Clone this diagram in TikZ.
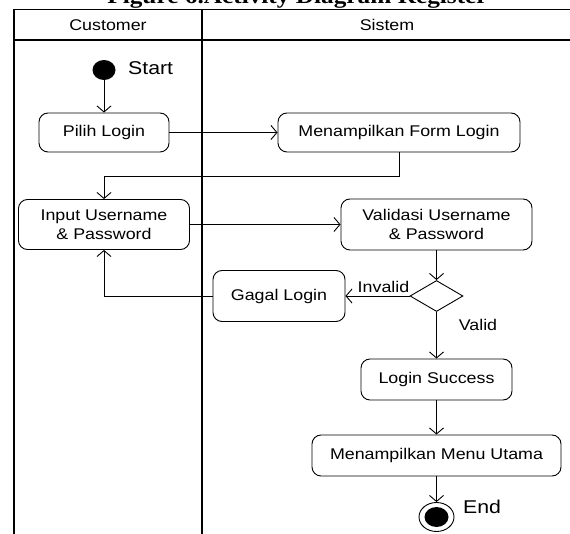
\documentclass[tikz,border=0pt]{standalone}
\usepackage{fontspec}
\setmainfont{Liberation Sans}[FakeStretch=1.15]
\newfontfamily\titlefont{Liberation Serif}[FakeStretch=1.15]
\usetikzlibrary{arrows.meta,shapes.geometric}
\begin{document}
\begin{tikzpicture}[x=1pt,y=-1pt,
  every node/.style={font=\fontsize{15.5}{18.5}\selectfont},
  act/.style={draw,rounded corners=9pt,line width=0.9pt,align=center,inner sep=0pt},
  flow/.style={line width=0.9pt,-{Straight Barb[length=6pt,width=14pt]}},
  lane/.style={line width=1.3pt},
  biglbl/.style={font=\fontsize{18.5}{20}\selectfont,inner sep=0pt}]
\useasboundingbox (0,0) rectangle (570,534);
\clip (0,0) rectangle (570,534);
\node[font=\titlefont\bfseries\fontsize{22}{26}\selectfont,anchor=base,inner sep=0pt] (title) at (297.5,4) {Figure 6.Activity Diagram Register};
% swimlanes
\draw[lane] (14,534) -- (14,9.3) -- (570,9.3);
\draw[lane] (14,40) -- (570,40);
\draw[lane] (202,9.3) -- (202,534);
\node (hc) at (108,25) {Customer};
\node (hs) at (387,25) {Sistem};
% nodes
\node[ellipse,fill=black,minimum width=23,minimum height=20,inner sep=0pt] (start) at (104,70) {};
\node[biglbl,anchor=west] (startlbl) at (128,68) {Start};
\node[act,minimum width=130,minimum height=39] (pilih) at (104,132.5) {Pilih Login};
\node[act,minimum width=242,minimum height=39] (form) at (399,132.5) {Menampilkan Form Login};
\node[act,minimum width=171,minimum height=50] (input) at (104,224.5) {Input Username\\\& Password};
\node[act,minimum width=191,minimum height=51] (valid) at (436.5,224.5) {Validasi Username\\\& Password};
\node[draw,diamond,minimum width=53,minimum height=31,inner sep=0pt,line width=0.9pt] (dec) at (436.5,296) {};
\node[act,minimum width=132,minimum height=51] (gagal) at (279,296) {Gagal Login};
\node[act,minimum width=151,minimum height=41] (success) at (436.5,379.5) {Login Success};
\node[act,minimum width=249,minimum height=41] (menu) at (436.5,455.5) {Menampilkan Menu Utama};
\node[ellipse,draw,line width=0.9pt,minimum width=35,minimum height=29,inner sep=0pt] (end) at (436.5,517) {};
\node[ellipse,fill=black,minimum width=24,minimum height=20,inner sep=0pt] (endin) at (end.center) {};
\node[biglbl,anchor=west] (endlbl) at (463,507) {End};
\node[anchor=base,inner sep=0pt] (inv) at (383.5,293) {Invalid};
\node[anchor=base,inner sep=0pt] (val) at (478,331) {Valid};
\coordinate (c1) at (104,176);
% flows
\draw[flow] (start) -- (pilih);
\draw[flow] (pilih) -- (form);
\draw[flow] (form.south) |- (c1) -- (input.north);
\draw[flow] (input) -- (valid);
\draw[flow] (valid) -- (dec);
\draw[flow] (dec) -- (gagal);
\draw[flow] (gagal.west) -| (input.south);
\draw[flow] (dec) -- (success);
\draw[flow] (success) -- (menu);
\draw[flow] (menu) -- (end);
\end{tikzpicture}
\end{document}
